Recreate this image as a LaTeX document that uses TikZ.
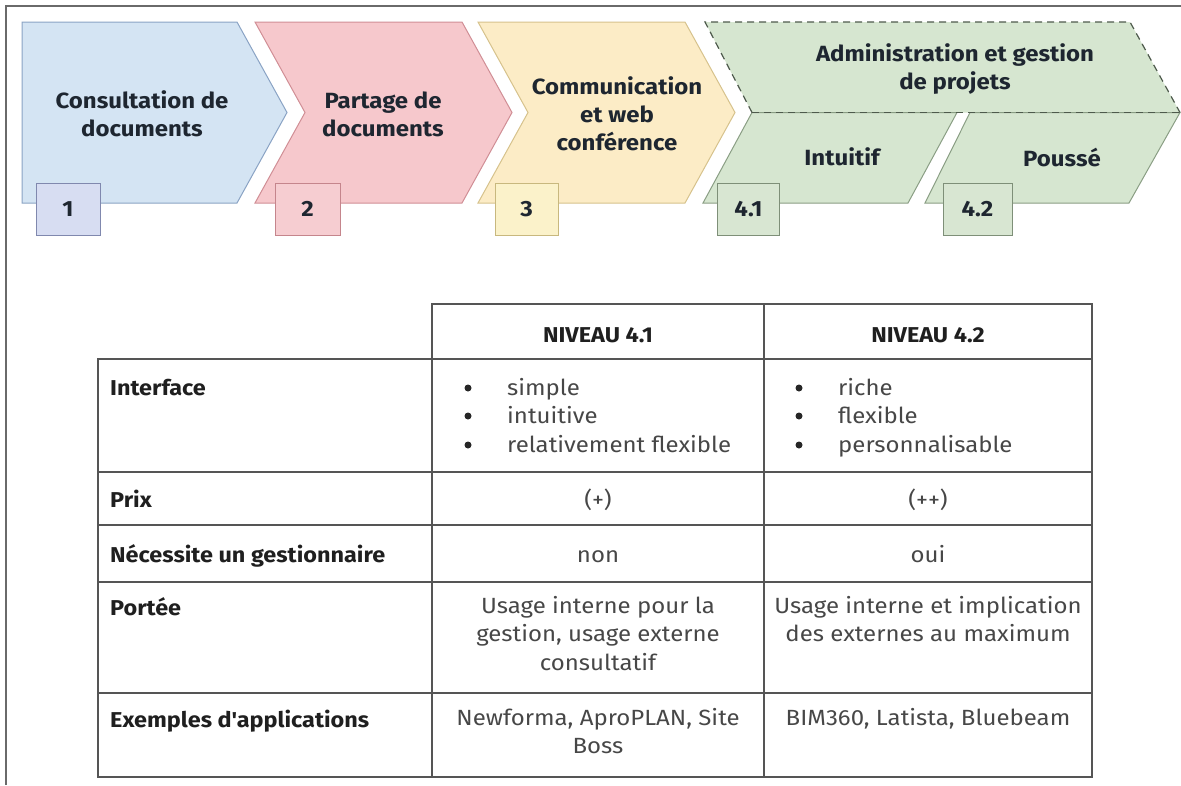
\documentclass[tikz,border=0pt]{standalone}
\usepackage{fontspec}
\setmainfont{Fira Sans}[FakeStretch=1.09]
\definecolor{bluefill}{HTML}{D4E4F3}
\definecolor{blueline}{HTML}{8AA3C4}
\definecolor{pinkfill}{HTML}{F6C8CC}
\definecolor{pinkline}{HTML}{D08E95}
\definecolor{yelfill}{HTML}{FCECC6}
\definecolor{yelline}{HTML}{D6C28C}
\definecolor{grnfill}{HTML}{D6E6D0}
\definecolor{grnline}{HTML}{8A9E84}
\definecolor{dashcol}{HTML}{4E5A4C}
\definecolor{boxblue}{HTML}{D7DDF2}
\definecolor{boxblueline}{HTML}{8088AE}
\definecolor{boxpink}{HTML}{F6CDD1}
\definecolor{boxpinkline}{HTML}{C5858C}
\definecolor{boxyel}{HTML}{FBF2CA}
\definecolor{boxyelline}{HTML}{C8B87E}
\definecolor{boxgrn}{HTML}{D8E6D2}
\definecolor{boxgrnline}{HTML}{7E8F78}
\definecolor{titletext}{HTML}{1E2630}
\definecolor{bodytext}{HTML}{474747}
\definecolor{gridcol}{HTML}{555555}
\definecolor{framecol}{HTML}{6A6A6A}
\begin{document}
\begin{tikzpicture}[x=1pt,y=-1pt,
  chev/.style={line width=1pt, line join=miter},
  ttl/.style={font=\bfseries\fontsize{22}{28}\selectfont, align=center, text=titletext, inner sep=0pt},
  numbox/.style={line width=1pt, minimum height=52pt, inner sep=0pt, font=\bfseries\fontsize{22}{24}\selectfont, text=titletext},
  grid/.style={draw=gridcol, line width=1.6pt},
  lbl/.style={font=\bfseries\fontsize{21.5}{28}\selectfont, text=black!88, anchor=base west, inner sep=0pt},
  body/.style={font=\fontsize{22}{28.5}\selectfont, text=bodytext, align=center, anchor=base, inner sep=0pt},
  bl/.style={font=\fontsize{22}{28}\selectfont, text=bodytext, anchor=base west, inner sep=0pt},
  dot/.style={circle, fill=black!85, inner sep=0pt, minimum size=7pt}
]
\useasboundingbox (0,0) rectangle (1181,785);
% frame
\draw[framecol, line width=1.2pt] (6,785) -- (6,6) -- (1181,6);

% chevrons
\draw[chev, fill=bluefill, draw=blueline] (22,22) -- (237,22) -- (287,112.5) -- (237,203) -- (22,203) -- cycle;
\draw[chev, fill=pinkfill, draw=pinkline] (255,22) -- (462,22) -- (512,112.5) -- (462,203) -- (255,203) -- (305,112.5) -- cycle;
\draw[chev, fill=yelfill, draw=yelline] (478,22) -- (685,22) -- (735,112.5) -- (685,203) -- (478,203) -- (528,112.5) -- cycle;
% green upper half
\fill[grnfill] (705,22) -- (1130,22) -- (1180,112.5) -- (752,112.5) -- cycle;
% green lower parallelograms
\draw[chev, fill=grnfill, draw=grnline] (752,112.5) -- (957,112.5) -- (908,203) -- (703,203) -- cycle;
\draw[chev, fill=grnfill, draw=grnline] (970,112.5) -- (1180,112.5) -- (1129,203) -- (925,203) -- cycle;
\draw[dashcol, line width=1.2pt, dash pattern=on 7pt off 5pt] (752,112.5) -- (705,22) -- (1130,22) -- (1180,112.5);
\draw[dashcol, line width=1.2pt, dash pattern=on 7pt off 5pt] (752,112.5) -- (1180,112.5);

% titles
\node[ttl] (t1) at (142,114) {Consultation de\\documents};
\node[ttl] (t2) at (383,114) {Partage de\\documents};
\node[ttl] (t3) at (617,114) {Communication\\et web\\conférence};
\node[ttl] (t4) at (955,69) {Administration et gestion\\de projets};
\node[ttl] (t41) at (842,157) {Intuitif};
\node[ttl] (t42) at (1062,157) {Poussé};

% number boxes
\node[numbox, draw=boxblueline, fill=boxblue, minimum width=64pt] (n1) at (68,209) {1};
\node[numbox, draw=boxpinkline, fill=boxpink, minimum width=65pt] (n2) at (307.5,209) {2};
\node[numbox, draw=boxyelline, fill=boxyel, minimum width=63pt] (n3) at (526.5,209) {3};
\node[numbox, draw=boxgrnline, fill=boxgrn, minimum width=62pt] (n41) at (748.5,209.5) {4.1};
\node[numbox, draw=boxgrnline, fill=boxgrn, minimum width=69pt] (n42) at (977.5,209.5) {4.2};

% table grid
\draw[grid] (432,304) rectangle (1092,777);
\draw[grid] (98,359) rectangle (1092,777);
\draw[grid] (764,304) -- (764,777);
\draw[grid] (98,472) -- (1092,472);
\draw[grid] (98,525) -- (1092,525);
\draw[grid] (98,582) -- (1092,582);
\draw[grid] (98,693) -- (1092,693);

% header
\node[lbl, anchor=base] (h1) at (598,342) {NIVEAU 4.1};
\node[lbl, anchor=base] (h2) at (928,342) {NIVEAU 4.2};

% row labels
\node[lbl] (r1) at (110,395) {Interface};
\node[lbl] (r2) at (110,507) {Prix};
\node[lbl] (r3) at (110,562) {Nécessite un gestionnaire};
\node[lbl] (r4) at (110,615) {Portée};
\node[lbl] (r5) at (110,727) {Exemples d\textquotesingle applications};

% interface bullets col 2
\node[dot] (d11) at (468,388) {};
\node[dot] (d12) at (468,416) {};
\node[dot] (d13) at (468,445) {};
\node[bl] (b11) at (507,395) {simple};
\node[bl] (b12) at (507,423) {intuitive};
\node[bl] (b13) at (507,452) {relativement flexible};
% interface bullets col 3
\node[dot] (d21) at (799,388) {};
\node[dot] (d22) at (799,416) {};
\node[dot] (d23) at (799,445) {};
\node[bl] (b21) at (838,395) {riche};
\node[bl] (b22) at (838,423) {flexible};
\node[bl] (b23) at (838,452) {personnalisable};

% prix
\node[body] (p1) at (598,507) {(+)};
\node[body] (p2) at (928,507) {(++)};
% gestionnaire
\node[body] (g1) at (598,562) {non};
\node[body] (g2) at (928,562) {oui};
% portee
\node[body, anchor=north] (po1) at (598,596) {Usage interne pour la\\gestion, usage externe\\consultatif};
\node[body, anchor=north] (po2) at (928,596) {Usage interne et implication\\des externes au maximum};
% exemples
\node[body, anchor=north] (e1) at (598,708) {Newforma, AproPLAN, Site\\Boss};
\node[body, anchor=north] (e2) at (928,708) {BIM360, Latista, Bluebeam};
\end{tikzpicture}
\end{document}
